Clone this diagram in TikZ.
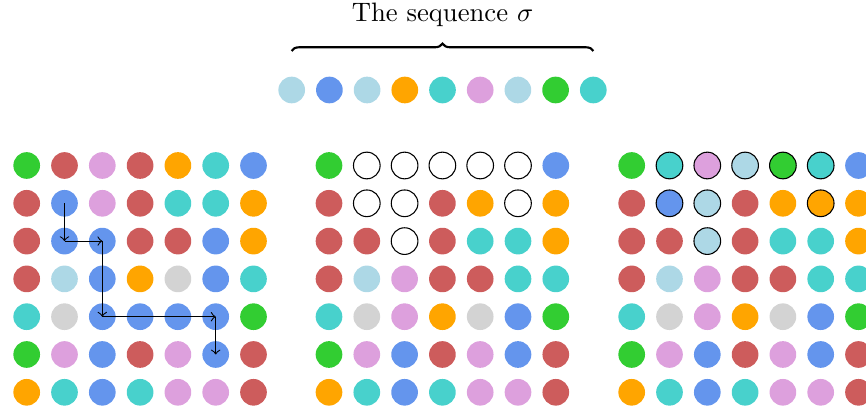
\documentclass[tikz,border=0pt]{standalone}
\usetikzlibrary{decorations.pathreplacing}
\definecolor{cG}{RGB}{50,205,50}
\definecolor{cR}{RGB}{205,92,92}
\definecolor{cP}{RGB}{221,160,221}
\definecolor{cO}{RGB}{255,165,0}
\definecolor{cT}{RGB}{72,209,204}
\definecolor{cB}{RGB}{100,149,237}
\definecolor{cL}{RGB}{173,216,230}
\definecolor{cY}{RGB}{211,211,211}
\definecolor{cW}{RGB}{255,255,255}
\begin{document}
\begin{tikzpicture}[x=0.375pt,y=-0.375pt,
  dot/.style={circle,inner sep=0pt,minimum size=10pt},
  o0/.style={},
  o1/.style={draw=black},
  pathArrow/.style={->,black}]
\useasboundingbox (0,0) rectangle (866,409);
% grid a
\foreach \row [count=\r] in {
 {G,R,P,R,O,T,B},
 {R,B,P,R,T,T,O},
 {R,B,B,R,R,B,O},
 {R,L,B,O,Y,B,T},
 {T,Y,B,B,B,B,G},
 {G,P,B,R,P,B,R},
 {O,T,B,T,P,P,R}}{
  \foreach \c [count=\k] in \row {
    \node[dot,fill=c\c] (a-\r-\k) at ({26.7+37.8*(\k-1)},{165.5+37.8*(\r-1)}) {};
  }
}
% grid b
\foreach \row [count=\r] in {
 {G/0,W/1,W/1,W/1,W/1,W/1,B/0},
 {R/0,W/1,W/1,R/0,O/0,W/1,O/0},
 {R/0,R/0,W/1,R/0,T/0,T/0,O/0},
 {R/0,L/0,P/0,R/0,R/0,T/0,T/0},
 {T/0,Y/0,P/0,O/0,Y/0,B/0,G/0},
 {G/0,P/0,B/0,R/0,P/0,B/0,R/0},
 {O/0,T/0,B/0,T/0,P/0,P/0,R/0}}{
  \foreach \c/\o [count=\k] in \row {
    \node[dot,fill=c\c,o\o] (b-\r-\k) at ({329+37.8*(\k-1)},{165.5+37.8*(\r-1)}) {};
  }
}
% grid c
\foreach \row [count=\r] in {
 {G/0,T/1,P/1,L/1,G/1,T/1,B/0},
 {R/0,B/1,L/1,R/0,O/0,O/1,O/0},
 {R/0,R/0,L/1,R/0,T/0,T/0,O/0},
 {R/0,L/0,P/0,R/0,R/0,T/0,T/0},
 {T/0,Y/0,P/0,O/0,Y/0,B/0,G/0},
 {G/0,P/0,B/0,R/0,P/0,B/0,R/0},
 {O/0,T/0,B/0,T/0,P/0,P/0,R/0}}{
  \foreach \c/\o [count=\k] in \row {
    \node[dot,fill=c\c,o\o] (c-\r-\k) at ({631.7+37.8*(\k-1)},{165.5+37.8*(\r-1)}) {};
  }
}
% sequence
\foreach \c [count=\k] in {L,B,L,O,T,P,L,G,T}{
  \node[dot,fill=c\c] (s-\k) at ({291.7+37.7*(\k-1)},90) {};
}
% brace and title
\coordinate (bl) at (291.7,51);
\coordinate (br) at (593.3,51);
\draw[thick,decorate,decoration={brace,amplitude=2.8pt}] (bl) -- (br);
\node[anchor=base] (title) at (442.5,21.5) {The sequence $\sigma$};
% path arrows
\draw[pathArrow] (a-2-2.center) -- (a-3-2.center);
\draw[pathArrow] (a-3-2.center) -- (a-3-3.center);
\draw[pathArrow] (a-3-3.center) -- (a-5-3.center);
\draw[pathArrow] (a-5-3.center) -- (a-5-6.center);
\draw[pathArrow] (a-5-6.center) -- (a-6-6.center);
\end{tikzpicture}
\end{document}
